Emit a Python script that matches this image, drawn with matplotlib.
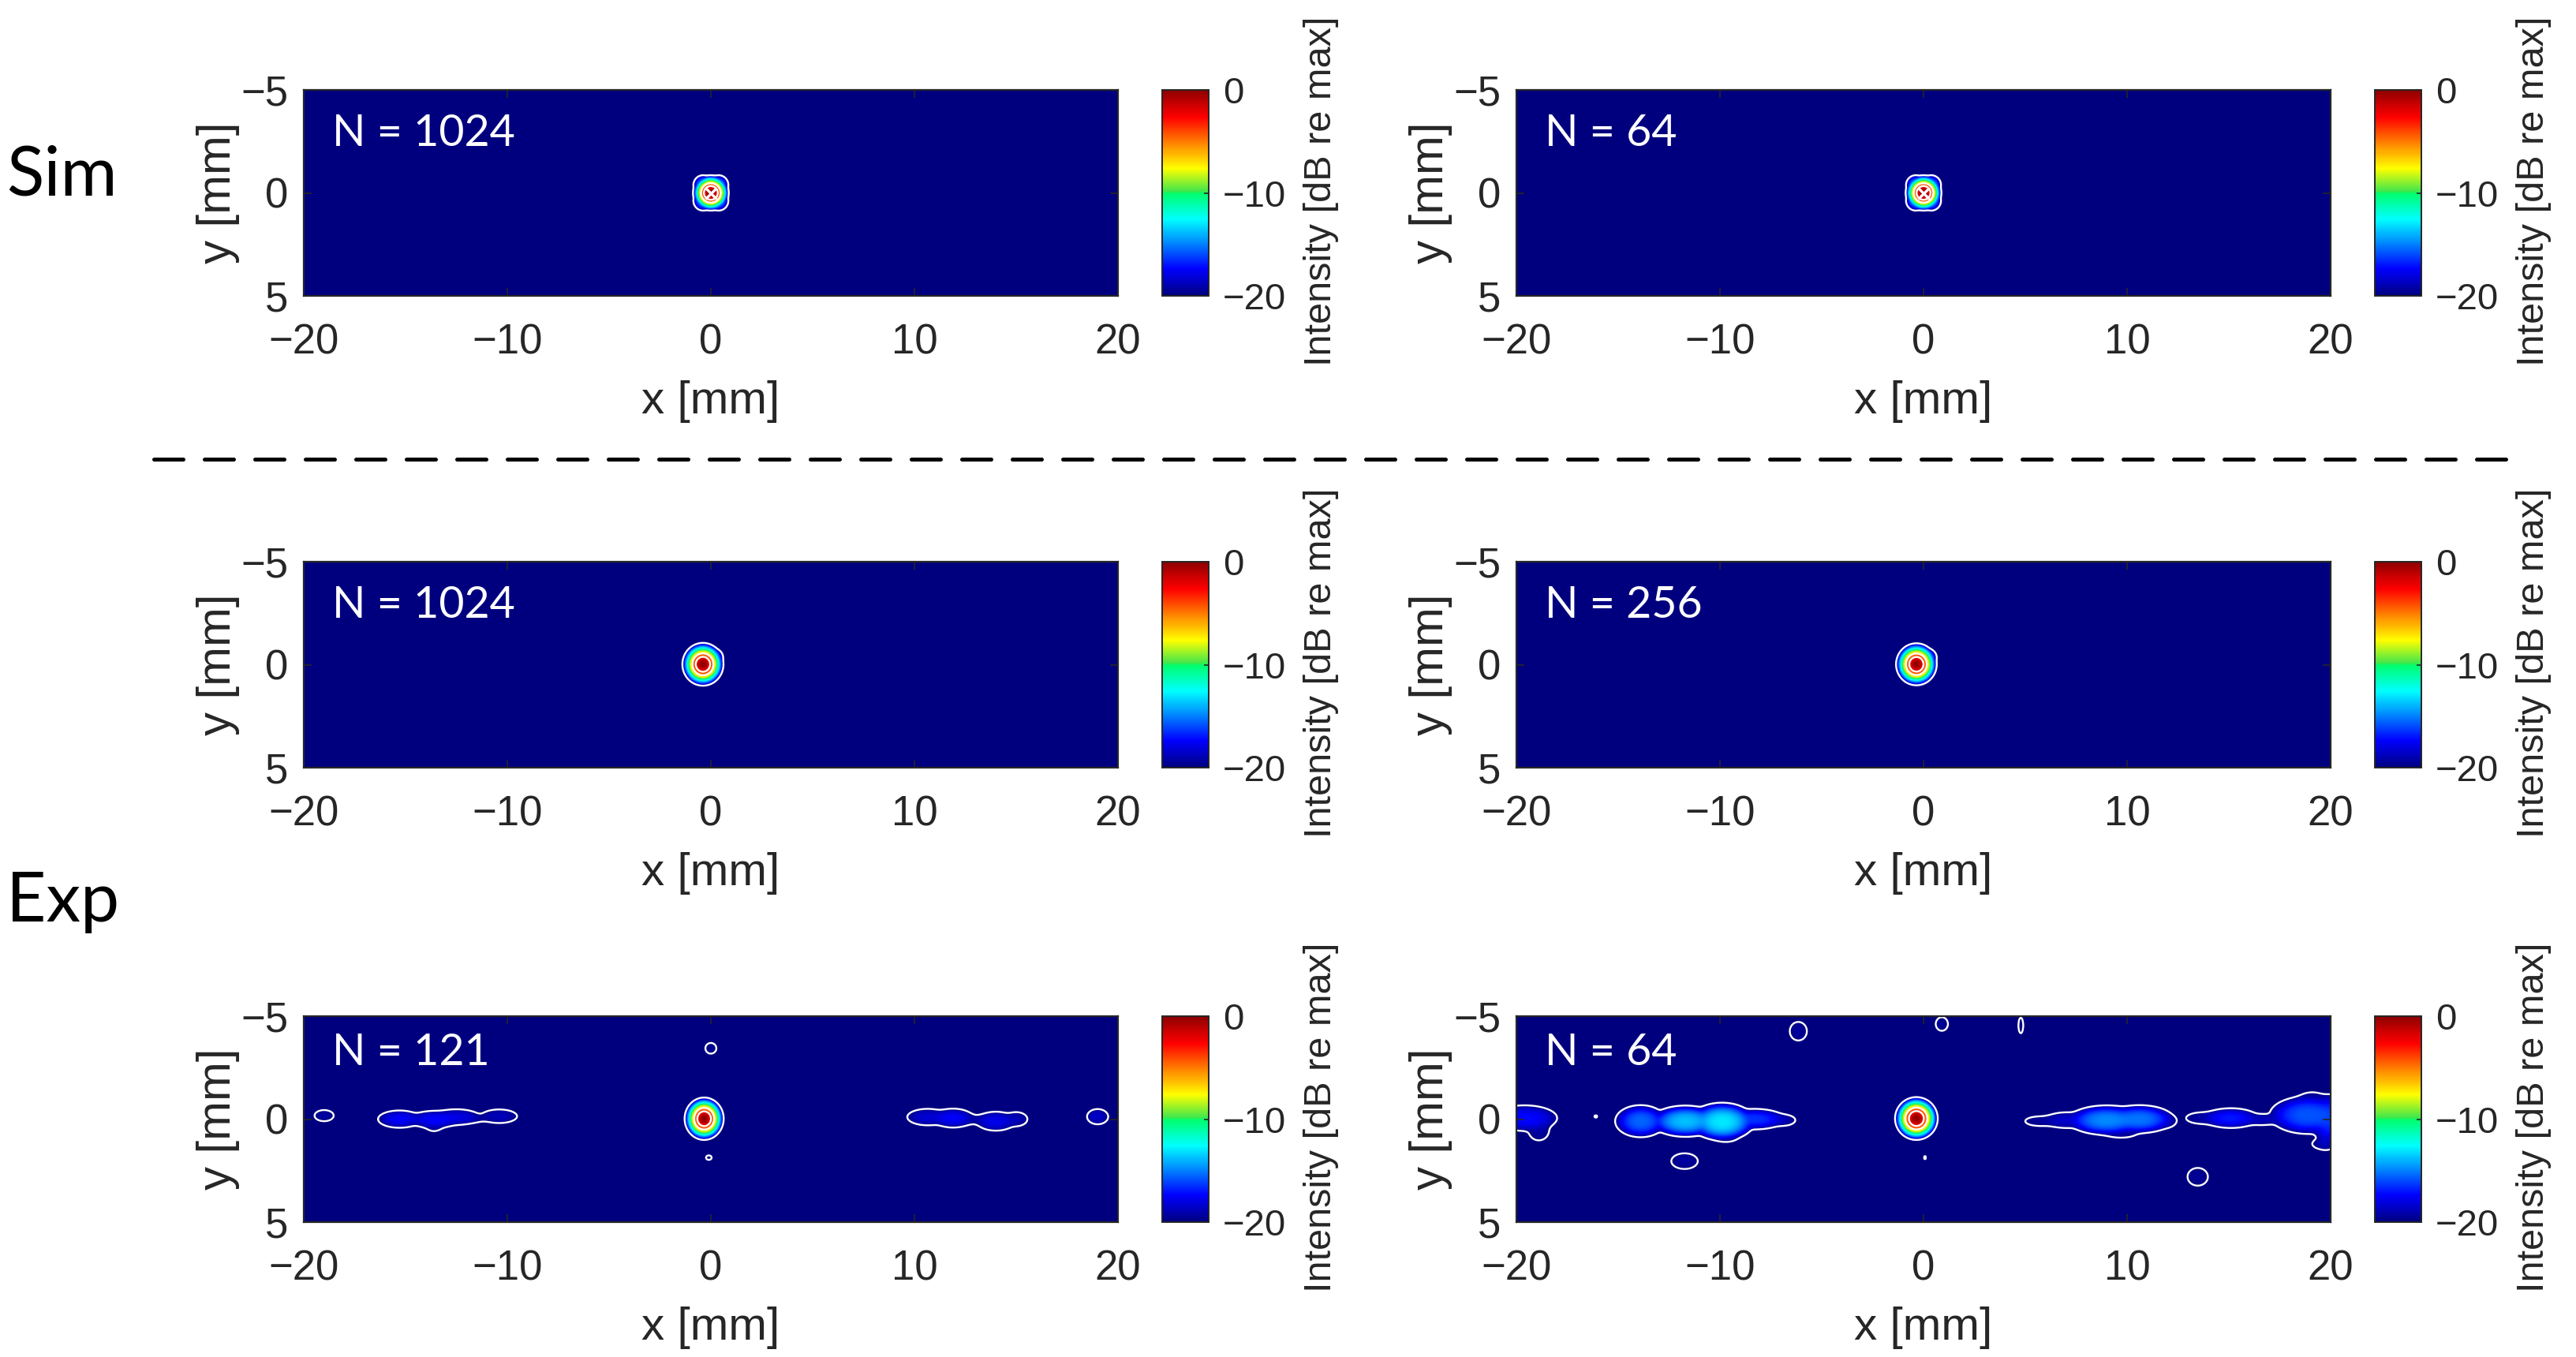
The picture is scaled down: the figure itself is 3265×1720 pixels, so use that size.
import numpy as np
import matplotlib
matplotlib.use('Agg')
import matplotlib.pyplot as plt
from matplotlib.colors import LinearSegmentedColormap
from matplotlib.lines import Line2D

W, H = 3266, 1720

#Labels of the panels
panel_labels = ['N = 1024', 'N = 64', 'N = 1024', 'N = 256', 'N = 121', 'N = 64']
x_ticks = [-20, -10, 0, 10, 20]
y_ticks = [-5, 0, 5]
cbar_ticks = [-20, -10, 0]
contour_levels = [-20, -6, -3]

#Lobes: x, y, x radius, y radius (at -20 dB), peak in dB
sim_1024 = [(0, 0, .88, .86, 0), (.38, .38, .48, .48, -15), (-.38, .38, .48, .48, -15),
            (.38, -.38, .48, .48, -15), (-.38, -.38, .48, .48, -15)]
sim_64 = [(0, 0, .88, .86, 0), (.38, .38, .48, .48, -15), (-.38, .38, .48, .48, -15),
          (.38, -.38, .48, .48, -15), (-.38, -.38, .48, .48, -15)]
exp_1024 = [(-.39, -.02, 1.01, 1.04, 0), (.1, -.35, .5, .45, -15)]
exp_256 = [(-.35, -.02, 1.0, 1.02, 0), (.15, -.35, .5, .45, -15)]
exp_121 = [(-.33, -.02, .96, 1.03, 0),
           (-15.3, 0, 1.05, .42, -17.5), (-13.6, .02, 1.2, .42, -17.5), (-12.5, -.1, 1.15, .38, -18),
           (-10.4, -.14, .88, .33, -18.8), (-13.6, .28, .4, .3, -19.2), (-11.7, 0, .5, .12, -19.7),
           (-19.0, -.17, .47, .27, -19.3),
           (0, -3.44, .27, .26, -19.6), (-.1, 1.87, .14, .11, -19.8),
           (10.65, -.1, 1.0, .4, -18.3), (11.9, -.05, 1.0, .46, -17.5), (12.9, .02, .7, .2, -19.5),
           (14.0, .1, .95, .46, -17.8), (15.0, 0, .55, .34, -18.8),
           (19.0, -.12, .52, .37, -18.5)]
exp_64 = [(-.35, -.03, 1.05, 1.04, 0),
          (-19.6, -.05, 1.6, .62, -17.3), (-18.9, .55, .5, .48, -19.3),
          (-16.1, -.13, .07, .06, -19.9),
          (-13.9, .1, 1.25, .78, -15.5), (-11.7, .1, 1.7, .76, -13.8), (-9.9, .12, 1.6, .92, -13),
          (-8.3, 0, 1.5, .5, -16.5), (-6.9, .05, .6, .27, -19), (-9.7, .9, .5, .2, -19.3),
          (-11.74, 2.04, .65, .38, -19.3),
          (13.47, 2.8, .5, .43, -19.5), (-6.15, -4.27, .42, .45, -19.4),
          (.9, -4.62, .3, .33, -19.5), (4.78, -4.55, .12, .38, -19.8), (.07, 1.87, .05, .08, -19.9),
          (5.7, .1, .7, .23, -19.5), (7.0, .05, 1.0, .38, -18.5), (9.0, .05, 1.9, .72, -14.8),
          (10.6, 0, 1.7, .68, -15.2), (11.9, .1, .5, .3, -19), (9.7, .65, .8, .25, -19.2),
          (13.7, -.05, .8, .28, -19.3), (15.1, -.05, 1.35, .48, -17), (16.6, .02, .9, .27, -18.8),
          (18.9, -.2, 1.9, .92, -15.8), (20, 0, 1.0, 1.2, -16.5), (19.8, 1.1, .4, .35, -19),
          (19.1, -1.0, .6, .3, -19.3), (19.6, 1.2, .5, .25, -19.3)]
panel_lobes = [sim_1024, sim_64, exp_1024, exp_256, exp_121, exp_64]
spot_power = [2.0, 2.0, 1.8, 1.8, 1.8, 1.8]
side_power = 2.6

#Colormap stops
cmap_stops = [(0, (0, 0, .5)), (.13, (0, 0, 1)), (.37, (0, 1, 1)), (.5, (0, 1, .42)),
              (.505, (.25, .9, .3)), (.62, (1, 1, 0)), (.87, (1, 0, 0)), (1, (.55, 0, 0))]
cmap = LinearSegmentedColormap.from_list('beam', cmap_stops, N=256)

plt.rcParams['font.family'] = ['Liberation Sans', 'DejaVu Sans']
plt.rcParams['axes.unicode_minus'] = True
dark = '#262626'


def px_axes(left, top, right, bottom):
    return fig.add_axes([left / W, 1 - bottom / H, (right - left) / W, (bottom - top) / H])


def field(lobes, power):
    xs = np.linspace(-20, 20, 801)
    ys = np.linspace(-5, 5, 301)
    X, Y = np.meshgrid(xs, ys)
    total = np.full(X.shape, 1e-40)
    for x0, y0, rx, ry, peak in lobes:
        rho = np.sqrt(((X - x0) / rx) ** 2 + ((Y - y0) / ry) ** 2)
        #Main spot keeps its own falloff, the side lobes are flatter on top
        pw = power if peak == 0 else side_power
        db = peak + (-20 - peak) * rho ** pw
        total += (10 ** (np.maximum(db, -60) / 10)) ** 6
    return xs, ys, 10 * np.log10(total) / 6


fig = plt.figure(figsize=(W / 100, H / 100), dpi=100)

lefts = [385, 1922]
rows = [(114, 375), (712, 973), (1288, 1549)]
label_y = [-2.28, -2.28, -2.28, -2.28, -2.63, -2.63]

for i in range(6):
    row = i // 2
    col = i % 2
    top, bottom = rows[row]
    ax = px_axes(lefts[col], top, lefts[col] + 1032, bottom)
    xs, ys, z = field(panel_lobes[i], spot_power[i])
    im = ax.imshow(z, extent=[-20, 20, 5, -5], origin='upper', aspect='auto',
                   cmap=cmap, vmin=-20, vmax=0, interpolation='bilinear')
    ax.contour(xs, ys, z, levels=contour_levels, colors='white', linewidths=1.7, linestyles='solid')
    if row == 0:
        ax.plot([0], [0], marker='x', color='white', ms=10, mew=2.4, ls='none')
    ax.set_xlim(-20, 20)
    ax.set_ylim(5, -5)
    ax.set_xticks(x_ticks)
    ax.set_yticks(y_ticks)
    ax.tick_params(direction='in', length=7, width=1.2, color=dark, labelcolor=dark,
                   labelsize=38, top=True, right=True)
    ax.tick_params(axis='x', pad=25)
    ax.tick_params(axis='y', pad=14)
    ax.set_xlabel('x [mm]', fontsize=42, color=dark, labelpad=16)
    ax.set_ylabel('y [mm]', fontsize=43, color=dark, labelpad=1)
    for s in ax.spines.values():
        s.set_linewidth(1.6)
        s.set_color(dark)
    ax.text(-18.6, label_y[i], panel_labels[i], color='white', fontsize=40, family='Lato',
            ha='left', va='baseline')

    cax = px_axes(lefts[col] + 1088, top, lefts[col] + 1147, bottom)
    cb = fig.colorbar(im, cax=cax, ticks=cbar_ticks)
    cb.ax.tick_params(direction='in', length=4, width=1.2, color=dark, labelcolor=dark,
                      labelsize=34, pad=13)
    cb.outline.set_linewidth(1.4)
    cb.outline.set_edgecolor(dark)
    fig.text((lefts[col] + 1290) / W, 1 - (top + 128) / H, 'Intensity [dB re max]', rotation=90,
             fontsize=35, color=dark, ha='center', va='center')

fig.text(8 / W, 1 - 248 / H, 'Sim', fontsize=63, family='Lato', color='black', va='baseline')
fig.text(8 / W, 1 - 1168 / H, 'Exp', fontsize=63, family='Lato', color='black', va='baseline')
fig.add_artist(Line2D([195 / W, 3190 / W], [1 - 581.5 / H, 1 - 581.5 / H], color='black', lw=3.6,
                      ls=(0, (7.4, 5.4)), dash_capstyle='round', transform=fig.transFigure))

fig.savefig('out.png', dpi=100)
